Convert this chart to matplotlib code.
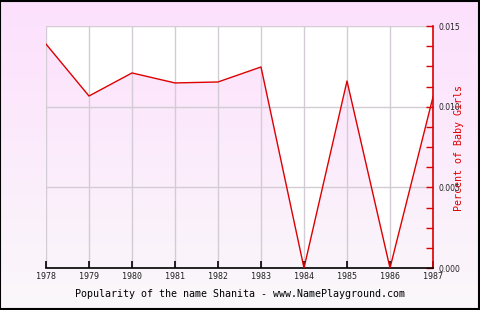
import numpy as np
import matplotlib
matplotlib.use("Agg")
import matplotlib.pyplot as plt

years = [1978, 1979, 1980, 1981, 1982, 1983, 1984, 1985, 1986, 1987]
percent = [0.01388, 0.01066, 0.01209, 0.01147, 0.01153, 0.01246, 0.0, 0.01159, 0.0, 0.0106]
y_ticks = [0.000, 0.005, 0.010, 0.015]
y_labels = ["0.000", "0.005", "0.010", "0.015"]
title = "Popularity of the name Shanita - www.NamePlayground.com"

fig = plt.figure(figsize=(4.8, 3.1), dpi=100)

# pink-to-white vertical gradient background
grad = np.linspace(0, 1, 256).reshape(-1, 1)
top = np.array([253, 224, 253]) / 255
bot = np.array([250, 248, 250]) / 255
img = top + (bot - top) * grad[:, :, None] * np.ones((1, 1, 3))
bg = fig.add_axes([0, 0, 1, 1], zorder=0)
bg.imshow(img, aspect="auto", extent=[0, 1, 0, 1], interpolation="bilinear")
bg.set_axis_off()
border = plt.Rectangle((0.001, 0.002), 0.997, 0.995, transform=fig.transFigure,
                       fill=False, edgecolor="black", linewidth=1.5)
fig.patches.append(border)

ax = fig.add_axes([46 / 480, 42 / 310, 387 / 480, 242 / 310], zorder=1)
ax.patch.set_alpha(0)
ax.set_xlim(1978, 1987)
ax.set_ylim(0, 0.015)

ax.fill_between(years, percent, 0.015, color="white", zorder=1, linewidth=0)
ax.plot(years, percent, color="#dd0000", linewidth=1.0, zorder=3)

ax.set_xticks(years)
ax.set_xticklabels([str(y) for y in years], fontsize=6, family="DejaVu Sans Mono")
ax.grid(True, color="#d4ccd4", linewidth=1, zorder=2)
for gl in ax.get_xgridlines() + ax.get_ygridlines():
    gl.set_zorder(2)

ax.yaxis.tick_right()
ax.yaxis.set_label_position("right")
ax.set_yticks(y_ticks)
ax.set_yticklabels(y_labels, fontsize=5.5, family="DejaVu Sans")
ax.set_yticks(np.arange(0, 0.0151, 0.00125), minor=True)
ax.tick_params(axis="y", which="both", direction="in", colors="#dd0000",
               length=5, width=1, pad=4, labelcolor="#222222")
ax.tick_params(axis="x", direction="in", length=5, width=1.2, color="black",
               pad=3, labelcolor="#222222")

for s in ["left", "top"]:
    ax.spines[s].set_visible(False)
ax.spines["bottom"].set_color("black")
ax.spines["bottom"].set_linewidth(1.2)
ax.spines["right"].set_color("#dd0000")
ax.spines["right"].set_linewidth(1.2)

ax.set_ylabel("Percent of Baby Girls", color="#dd0000", fontsize=7.2,
              family="DejaVu Sans Mono")
ax.yaxis.label.set_va("center")
ax.yaxis.label.set_ha("center")
ax.yaxis.set_label_coords(1.068, 0.496)

fig.text(0.5, 16 / 310, title, ha="center", va="center", fontsize=7.2,
         family="DejaVu Sans Mono", color="black")

fig.savefig("out.png", dpi=100)
